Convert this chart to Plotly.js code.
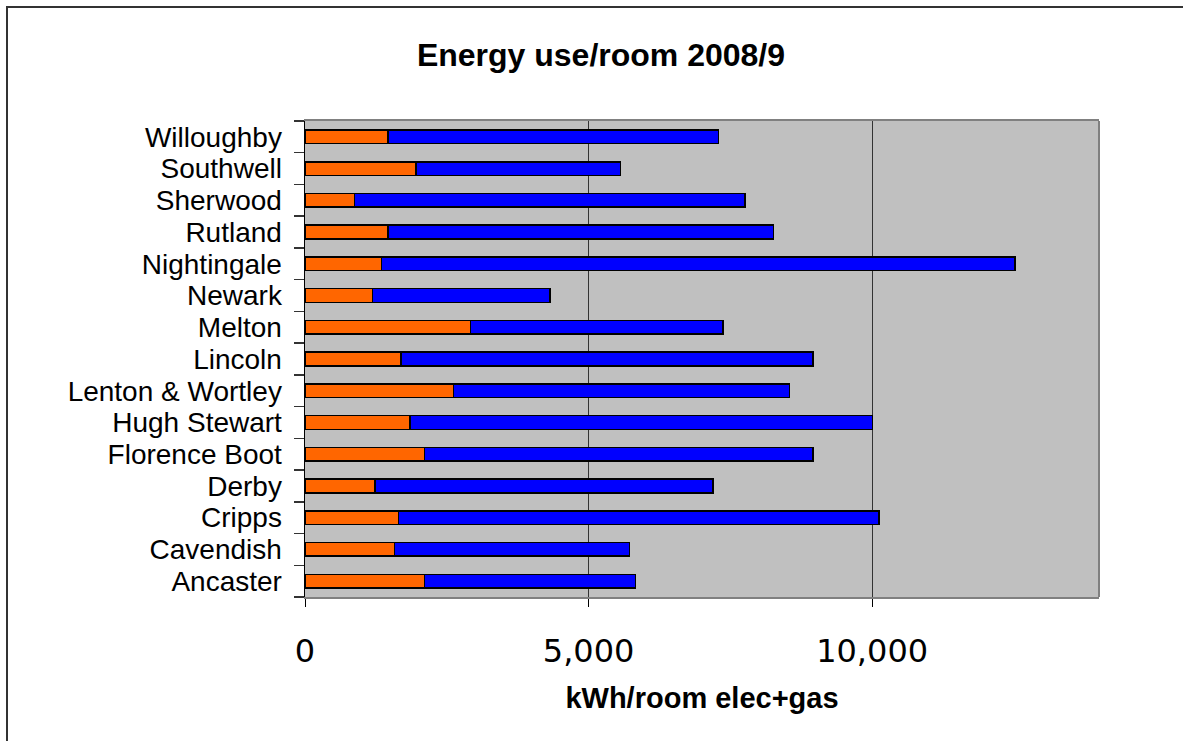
<!DOCTYPE html>
<html>
<head>
<meta charset="utf-8">
<script src="https://cdn.plot.ly/plotly-3.0.1.min.js"></script>
<style>
  html, body { margin: 0; padding: 0; background: #fff; }
  #chart { position: absolute; left: 0; top: 0; width: 1183px; height: 741px; }
  #frame { position: absolute; left: 6px; top: 6px; right: -10px; bottom: -10px;
           border-left: 2px solid #333; border-top: 2px solid #333; pointer-events: none; }
</style>
</head>
<body>
<div id="chart"></div>
<div id="frame"></div>
<script>
// Categories listed bottom-to-top as they appear on the chart
const halls = ["Ancaster", "Cavendish", "Cripps", "Derby", "Florence Boot", "Hugh Stewart",
               "Lenton & Wortley", "Lincoln", "Melton", "Newark", "Nightingale", "Rutland",
               "Sherwood", "Southwell", "Willoughby"];
// kWh/room, first (orange) segment
const elecPerRoom = [2110, 1580, 1650, 1230, 2110, 1850, 2620, 1690, 2920, 1190, 1350, 1460, 870, 1960, 1460];
// kWh/room, second (blue) segment stacked on the first
const gasPerRoom  = [3720, 4140, 8470, 5960, 6850, 8160, 5920, 7270, 4450, 3130, 11170, 6800, 6890, 3600, 5830];
const xTicks = [0, 5000, 10000];

const barLine = {color: "#000000", width: 1.5};
const traces = [
  {type: "bar", orientation: "h", y: halls, x: elecPerRoom, name: "elec",
   marker: {color: "#FF6600", line: barLine}, hoverinfo: "x+y"},
  {type: "bar", orientation: "h", y: halls, x: gasPerRoom, name: "gas",
   marker: {color: "#0000FF", line: barLine}, hoverinfo: "x+y"}
];

const layout = {
  width: 1183, height: 741,
  margin: {l: 305, r: 84, t: 121, b: 144},
  paper_bgcolor: "rgba(0,0,0,0)",
  plot_bgcolor: "#C0C0C0",
  barmode: "stack",
  bargap: 0.57,
  showlegend: false,
  title: {text: "<b>Energy use/room 2008/9</b>", x: 0.508, xref: "container",
          y: 0.926, yref: "container", xanchor: "center", yanchor: "middle",
          font: {family: "Liberation Sans, Arial, sans-serif", size: 32, color: "#000"}},
  xaxis: {
    range: [0, 14000], tickvals: xTicks, tickformat: ",d",
    showgrid: true, gridcolor: "#333333", gridwidth: 1,
    zeroline: false,
    showline: true, linecolor: "#808080", linewidth: 2, mirror: true,
    ticks: "outside", ticklen: 8, tickcolor: "#000", tickwidth: 1,
    ticklabelstandoff: 17,
    tickfont: {family: "DejaVu Sans, sans-serif", size: 32, color: "#000"},
    title: {text: "<b>kWh/room elec+gas</b>", standoff: 18,
            font: {family: "Liberation Sans, Arial, sans-serif", size: 29, color: "#000"}},
    fixedrange: true
  },
  yaxis: {
    type: "category", categoryorder: "array", categoryarray: halls,
    tickmode: "linear", dtick: 1,
    showgrid: false, zeroline: false,
    showline: true, linecolor: "#000", linewidth: 1.5, mirror: false,
    ticks: "outside", tickson: "boundaries", ticklen: 10, tickcolor: "#333", tickwidth: 1.5,
    ticklabelstandoff: 16,
    tickfont: {family: "Liberation Sans, Arial, sans-serif", size: 28, color: "#000"},
    fixedrange: true
  },
  shapes: [
    {type: "line", xref: "paper", yref: "paper", x0: 1, x1: 1, y0: 0, y1: 1,
     line: {color: "#808080", width: 2}, layer: "above"}
  ]
};

Plotly.newPlot("chart", traces, layout, {displayModeBar: false, staticPlot: true});
</script>
</body>
</html>
